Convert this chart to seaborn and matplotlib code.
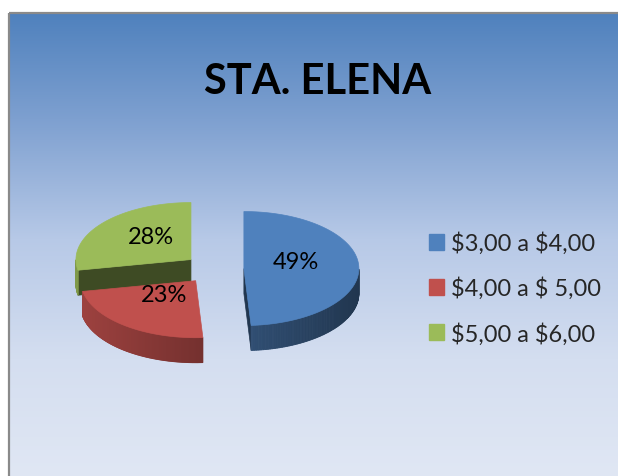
import numpy as np
import matplotlib
matplotlib.use("Agg")
import matplotlib.pyplot as plt
from matplotlib.patches import Polygon, Patch
import seaborn as sns

# Data
title = "STA. ELENA"
categories = ["$3,00 a $4,00", "$4,00 a $ 5,00", "$5,00 a $6,00"]
shares = [49, 23, 28]
colors = ["#4F81BD", "#C0504D", "#9BBB59"]

sns.set_theme(style="white")
plt.rcParams["font.family"] = ["Lato", "DejaVu Sans"]
plt.rcParams["text.parse_math"] = False

W, H = 618, 477
fig = plt.figure(figsize=(W / 100, H / 100), dpi=100)
fig.patch.set_facecolor("white")
ax = fig.add_axes([0, 0, 1, 1])

# chart area background: vertical blue gradient
ys = np.arange(14, H + 1)
stop_y = [14, 120, 240, 360, 477]
stop_c = np.array([(79, 129, 189), (126, 160, 208), (183, 201, 231),
                   (212, 222, 240), (224, 231, 244)]) / 255
grad = np.stack([np.interp(ys, stop_y, stop_c[:, i]) for i in range(3)], axis=-1)[:, None, :]
ax.imshow(grad, extent=[9, W, H, 14], aspect="auto", interpolation="bilinear", zorder=0)
ax.plot([9, 9], [H, 14], color="#8a8a8a", lw=1.6, zorder=1, solid_capstyle="butt")
ax.plot([9, W], [14, 14], color="#8a8a8a", lw=1.6, zorder=1, solid_capstyle="butt")

ax.set_xlim(0, W)
ax.set_ylim(H, 0)
ax.axis("off")

# 3D exploded pie (drawn in pixel space)
cx, cy = 214, 270
rx, ry = 115, 57
depth = 25
explode = 0.26


def shade(c, f):
    rgb = np.array(matplotlib.colors.to_rgb(c))
    return tuple(np.clip(rgb * f, 0, 1))


slices = []
start = 90.0
for cat, s, col in zip(categories, shares, colors):
    a1 = start - 360 * s / 100
    mid = np.radians((a1 + start) / 2)
    ox = explode * rx * np.cos(mid)
    oy = -explode * ry * np.sin(mid)
    slices.append(dict(cat=cat, share=s, col=col, a1=a1, a2=start, mid=mid, ox=ox, oy=oy))
    start = a1


def pt(sl, t_deg, r=1.0, z=0.0):
    t = np.radians(t_deg)
    return (cx + sl["ox"] + r * rx * np.cos(t), cy + sl["oy"] - r * ry * np.sin(t) + z)


z = 2
for sl in sorted(slices, key=lambda d: d["oy"]):
    a1, a2, col = sl["a1"], sl["a2"], sl["col"]
    # radial cut faces
    if np.cos(np.radians(a1)) > 0:
        q = [pt(sl, a1, 0), pt(sl, a1, 1), pt(sl, a1, 1, depth), pt(sl, a1, 0, depth)]
        ax.add_patch(Polygon(q, closed=True, facecolor=shade(col, 0.42), edgecolor=shade(col, 0.42), lw=0.5, zorder=z))
    if np.cos(np.radians(a2)) < 0:
        q = [pt(sl, a2, 0), pt(sl, a2, 1), pt(sl, a2, 1, depth), pt(sl, a2, 0, depth)]
        ax.add_patch(Polygon(q, closed=True, facecolor=shade(col, 0.40), edgecolor=shade(col, 0.40), lw=0.5, zorder=z))
    z += 1
    # outer wall (front half only)
    ts = np.linspace(a1, a2, 200)
    for t0, t1 in zip(ts[:-1], ts[1:]):
        tm = np.radians((t0 + t1) / 2)
        if np.sin(tm) >= 0:
            continue
        f = 0.62 - 0.2 * np.cos(tm)
        q = [pt(sl, t0), pt(sl, t1), pt(sl, t1, 1, depth), pt(sl, t0, 1, depth)]
        ax.add_patch(Polygon(q, closed=True, facecolor=shade(col, f), edgecolor=shade(col, f), lw=0.6, zorder=z))
    z += 1
    # top face
    arc = [pt(sl, t) for t in np.linspace(a1, a2, 120)]
    top = [pt(sl, 0, 0)] + arc
    ax.add_patch(Polygon(top, closed=True, facecolor=col, edgecolor=col, lw=0.5, zorder=z))
    z += 1
    # percentage label
    lx, ly = pt(sl, np.degrees(sl["mid"]), 0.45)
    ax.text(lx, ly - 8 + 8, f"{sl['share']}%", ha="center", va="baseline",
            fontsize=17, color="black", zorder=50)

# title
ax.text(318, 94, title, ha="center", va="baseline", fontsize=30, fontweight="bold",
        color="black", zorder=50)

# legend
handles = [Patch(facecolor=c, edgecolor=c) for c in colors]
ax.legend(handles, categories, loc="center left", bbox_to_anchor=(429 / W, 1 - 289 / H),
          frameon=False, fontsize=17, borderpad=0, borderaxespad=0,
          handlelength=0.65, handleheight=0.65, handletextpad=0.3, labelspacing=0.95)

fig.savefig("out.png", dpi=100)
